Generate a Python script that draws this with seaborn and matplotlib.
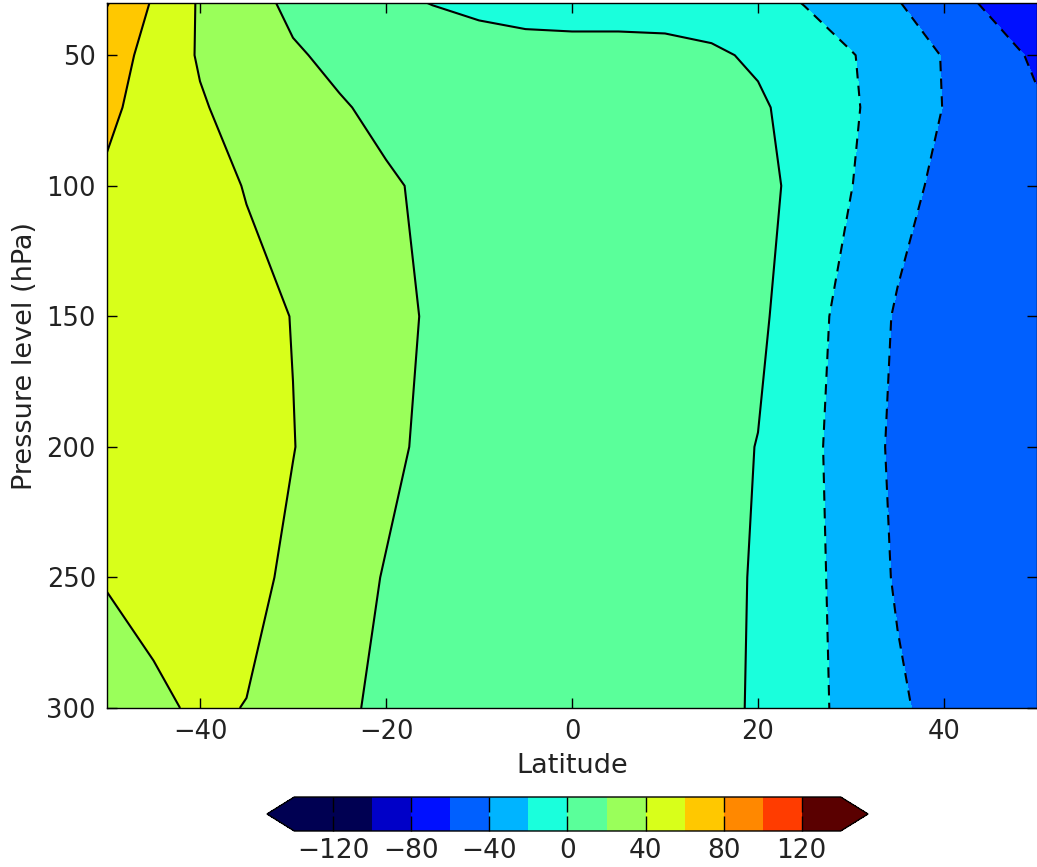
import numpy as np
import pandas as pd
import seaborn as sns
import matplotlib
matplotlib.use("Agg")
import matplotlib.pyplot as plt
from matplotlib.colors import ListedColormap, BoundaryNorm

# ---------------- data ----------------
latitudes = [-50, -45, -40, -35, -30, -25, -20, -15, -10, -5, 0,
             5, 10, 15, 20, 25, 30, 35, 40, 45, 50]
pressure_levels = [30, 50, 70, 100, 150, 200, 250, 300]

u30 = [81, 58, 38, 27, 16, 9, 4, -0.5, -3, -5, -6, -6, -7, -10, -14, -20.5, -30, -39, -52, -63, -72]
u50 = [67, 55, 38, 29, 22, 16, 13, 11, 6, 5, 5, 5, 5, 3, -3, -12, -19, -29, -41, -52, -63]
u70 = [62, 56, 42, 32, 26, 21.5, 16, 13, 11, 10, 10, 9, 8, 6, 3, -8, -18, -28, -40.5, -50, -58]
u100 = [58.5, 54, 48, 39, 32, 27, 22, 17, 14, 13, 12, 12, 11, 9, 5, -5, -19.5, -33, -45, -52, -56]
u150 = [54, 52, 50, 46, 39.5, 31, 25, 18, 15, 13, 12, 12, 11, 9, 4, -12, -27, -42, -50, -52, -52]
u200 = [52, 51, 50, 46, 40.5, 31, 24, 16, 13, 12, 11, 10, 9, 6, -0.5, -14, -29, -44, -51, -53, -52]
u250 = [41, 47, 49, 46, 36, 27, 19, 15, 12, 11, 10, 9, 8, 5, -1.5, -13, -28, -42, -50, -52, -52]
u300 = [32, 36, 43, 39.5, 31, 23.5, 16, 13, 11, 10, 9, 8, 7, 5, -2, -12, -27, -37, -47, -50, -50]

contour_levels = list(range(-140, 141, 20))
colorbar_ticks = [-120, -80, -40, 0, 40, 80, 120]

band_colors = ["#000052", "#000052", "#0000c8", "#0010ff", "#0060ff", "#00b4ff",
               "#1affdc", "#5aff9a", "#9aff5a", "#d8ff1a", "#ffc800", "#ff8800",
               "#ff3c00", "#5a0000"]
under_color = "#000052"
over_color = "#5a0000"

df = pd.DataFrame([u30, u50, u70, u100, u150, u200, u250, u300],
                  index=pressure_levels, columns=latitudes)

# ---------------- style ----------------
sns.set_theme(style="ticks", rc={
    "axes.edgecolor": "black",
    "axes.linewidth": 1.0,
    "axes.axisbelow": False,
    "xtick.color": "black",
    "ytick.color": "black",
    "xtick.direction": "in",
    "ytick.direction": "in",
    "xtick.bottom": True,
    "xtick.top": True,
    "ytick.left": True,
    "ytick.right": True,
    "text.color": "#222222",
    "axes.labelcolor": "#222222",
})
plt.rcParams["font.family"] = ["DejaVu Sans"]

W, H = 1037, 867
fig = plt.figure(figsize=(W / 100, H / 100), dpi=100)
ax = fig.add_axes([107 / W, 159 / H, 930 / W, 705 / H])
ax.set_axisbelow(False)

cmap = ListedColormap(band_colors)
cmap.set_under(under_color)
cmap.set_over(over_color)
norm = BoundaryNorm(contour_levels, cmap.N)

X = df.columns.values
Y = df.index.values
Z = df.values

cf = ax.contourf(X, Y, Z, levels=contour_levels, cmap=cmap, norm=norm, extend="both")
line_styles = [(0, (5, 3.5)) if lv < 0 else "solid" for lv in contour_levels]
cs = ax.contour(X, Y, Z, levels=contour_levels, colors="black",
                linewidths=1.5, linestyles=line_styles)

ax.set_xlim(-50, 50)
ax.set_ylim(300, 30)
ax.set_xticks([-40, -20, 0, 20, 40])
ax.set_yticks([50, 100, 150, 200, 250, 300])
ax.tick_params(direction="in", length=7, width=1, top=True, right=True,
               bottom=True, left=True, labelsize=18.5, labelcolor="#222222", pad=8)
ax.set_xlabel("Latitude", fontsize=19.5, labelpad=6)
ax.set_ylabel("Pressure level (hPa)", fontsize=19.5, labelpad=6)
for s in ax.spines.values():
    s.set_visible(True)
    s.set_color("black")
    s.set_zorder(5)

cax = fig.add_axes([267 / W, 36 / H, 601 / W, 34 / H])
cb = fig.colorbar(cf, cax=cax, orientation="horizontal", ticks=colorbar_ticks)
cb.ax.set_axisbelow(False)
cb.ax.tick_params(axis="x", which="major", direction="in", length=11, width=1,
                  top=True, bottom=True, labelsize=19, labelcolor="#222222", pad=5)
cb.ax.minorticks_off()
cb.outline.set_linewidth(1.0)

fig.savefig("out.png", dpi=100)
